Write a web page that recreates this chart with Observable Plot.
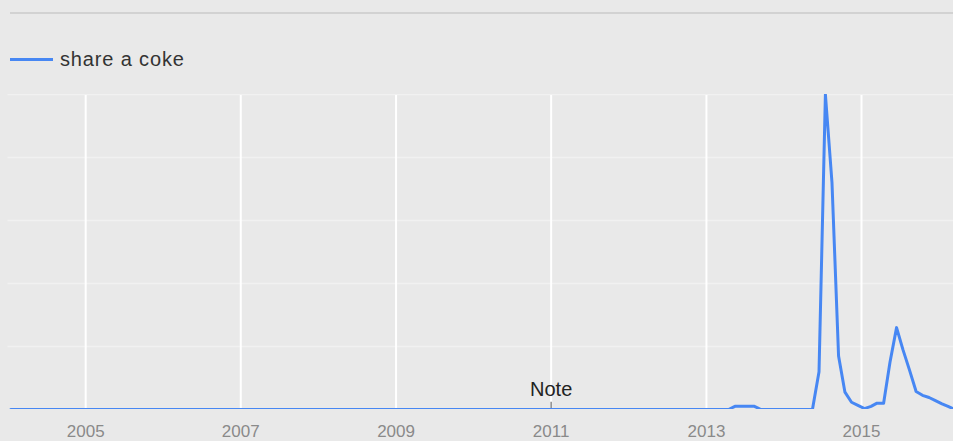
<!DOCTYPE html>
<html>
<head>
<meta charset="utf-8">
<script src="https://cdn.jsdelivr.net/npm/d3@7"></script>
<script src="https://cdn.jsdelivr.net/npm/@observablehq/plot@0.6"></script>
<style>
  html, body { margin: 0; padding: 0; background: #e9e9e9; }
  body { width: 953px; height: 441px; overflow: hidden; font-family: "Liberation Sans", Arial, sans-serif; }
  #head { position: relative; height: 80px; }
  #topline { position: absolute; left: 10px; right: 0; top: 12px; height: 2px; background: #d2d2d2; }
  #legend { position: absolute; left: 10px; top: 46px; height: 26px; display: flex; align-items: center; }
  #legend .sw { width: 43px; height: 3px; background: #4787f3; margin-right: 7px; }
  #legend .lb { font-size: 20px; color: #333; letter-spacing: 0.85px; }
  svg { display: block; }
</style>
</head>
<body>
<div id="head">
  <div id="topline"></div>
  <div id="legend"><div class="sw"></div><div class="lb" id="seriesName"></div></div>
</div>
<div id="chart"></div>
<script>
// ---- data ----
const seriesName = "share a coke";
const firstMonth = "2004-01";
// monthly interest values, Jan 2004 .. Mar 2016 (one row per year)
const v2004 = [0,0,0,0,0,0,0,0,0,0,0,0];
const v2005 = [0,0,0,0,0,0,0,0,0,0,0,0];
const v2006 = [0,0,0,0,0,0,0,0,0,0,0,0];
const v2007 = [0,0,0,0,0,0,0,0,0,0,0,0];
const v2008 = [0,0,0,0,0,0,0,0,0,0,0,0];
const v2009 = [0,0,0,0,0,0,0,0,0,0,0,0];
const v2010 = [0,0,0,0,0,0,0,0,0,0,0,0];
const v2011 = [0,0,0,0,0,0,0,0,0,0,0,0];
const v2012 = [0,0,0,0,0,0,0,0,0,0,0,0];
const v2013 = [0,0,0,0,1,1,1,1,0,0,0,0];
const v2014 = [0,0,0,0,0,12,100,72,17,5.5,2.3,1.3];
const v2015 = [0.3,1,2,2,15,26,19,12.5,5.7,4.5,3.8,2.8];
const v2016 = [1.8,0.9,0];
const yearTicks = [2005, 2007, 2009, 2011, 2013, 2015];
const yGridValues = [20, 40, 60, 80, 100];
const noteMonth = "2011-01";
const noteLabel = "Note";

// ---- build table ----
const allValues = [].concat(v2004, v2005, v2006, v2007, v2008, v2009, v2010, v2011, v2012, v2013, v2014, v2015, v2016);
const parseMonth = d3.utcParse("%Y-%m");
const start = parseMonth(firstMonth);
const data = allValues.map((value, i) => ({
  date: d3.utcDay.offset(d3.utcMonth.offset(start, i), 14),
  value
}));
const tickDates = yearTicks.map(y => new Date(Date.UTC(y, 0, 1)));
const noteDate = parseMonth(noteMonth);

document.getElementById("seriesName").textContent = seriesName;

const blue = "#4787f3";

const chart = Plot.plot({
  width: 953,
  height: 361,
  marginTop: 14,
  marginBottom: 32,
  marginLeft: 0,
  marginRight: 0,
  style: { background: "transparent", fontFamily: "Liberation Sans, Arial, sans-serif" },
  x: { type: "utc", domain: [new Date(Date.UTC(2003, 10, 27)), new Date(Date.UTC(2016, 2, 9))] },
  y: { domain: [0, 100], axis: null },
  marks: [
    Plot.ruleY(yGridValues, { x1: start, x2: data[data.length - 1].date, stroke: "#f1f1f1", strokeWidth: 1.5, clip: true }),
    Plot.ruleX(tickDates, { y1: 0, y2: 99.7, stroke: "#ffffff", strokeWidth: 2 }),
    Plot.ruleY([0], { x1: start, x2: data[data.length - 1].date, stroke: "#9a9a9a", strokeWidth: 1.2, clip: true }),
    Plot.ruleX([noteDate], { y1: 0, y2: 2.3, stroke: "#8a8a8a", strokeWidth: 1.5 }),
    Plot.line(data, { x: "date", y: "value", stroke: blue, strokeWidth: 3, clip: true }),
    Plot.text([noteDate], { x: d => d, y: 0, text: () => noteLabel, dy: -20, fontSize: 20, fill: "#222" }),
    Plot.axisX(tickDates, { tickSize: 0, tickPadding: 15, tickFormat: d3.utcFormat("%Y"), fontSize: 17, color: "#8a8a8a", label: null })
  ]
});
document.getElementById("chart").appendChild(chart);
</script>
</body>
</html>
